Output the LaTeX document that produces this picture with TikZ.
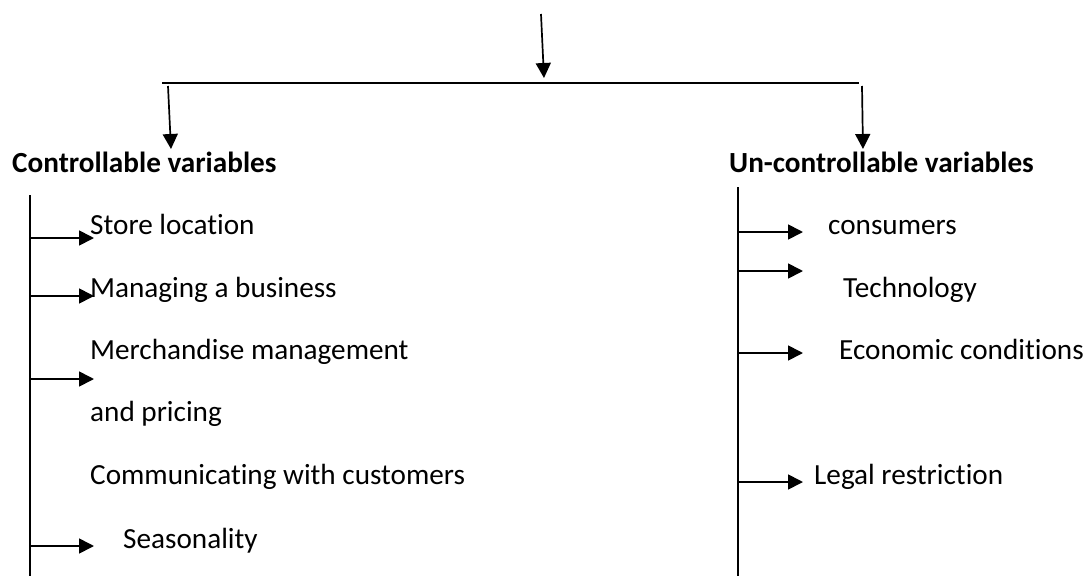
\documentclass[tikz,border=0pt]{standalone}
\usepackage{fontspec}
\setmainfont{Carlito}[Ligatures=NoCommon]
\usetikzlibrary{arrows.meta}
\begin{document}
\begin{tikzpicture}[x=1pt,y=-1pt,
  conn/.style={line width=1.7pt},
  arr/.style={conn,-{Triangle[length=15pt,width=15pt]}},
  lbl/.style={anchor=base west,inner sep=0pt,font=\fontsize{29.2}{34}\selectfont},
  head/.style={lbl,font=\fontsize{29.2}{34}\selectfont\bfseries}]
\useasboundingbox[fill=white] (0,0) rectangle (1088,576);
% top structure
\coordinate (topstart) at (541,14);
\coordinate (topend) at (544,78);
\coordinate (barL) at (162,83);
\coordinate (barR) at (859,83);
\coordinate (lstart) at (168,86);
\coordinate (lend) at (171,149);
\coordinate (rstart) at (862,86);
\coordinate (rend) at (863,149);
\draw[arr] (topstart) -- (topend);
\draw[conn] (barL) -- (barR);
\draw[arr] (lstart) -- (lend);
\draw[arr] (rstart) -- (rend);
% headings
\node[head] (ctrl) at (12,172) {Controllable variables};
\node[head] (unctrl) at (729,172) {Un-controllable variables};
% left branch
\coordinate (lt) at (30,195);
\coordinate (lb) at (30,576);
\draw[conn] (lt) -- (lb);
\foreach \n/\y in {a/238,b/296,c/379,d/546}{
  \coordinate (la\n) at (30,\y);
  \coordinate (lt\n) at (94,\y);
  \draw[arr] (la\n) -- (lt\n);
}
\node[lbl] (store) at (90,234) {Store location};
\node[lbl] (manage) at (90,297) {Managing a business};
\node[lbl] (merch) at (90,359) {Merchandise management};
\node[lbl] (pricing) at (90,421) {and pricing};
\node[lbl] (comm) at (90,484) {Communicating with customers};
\node[lbl] (season) at (123,548) {Seasonality};
% right branch
\coordinate (rt) at (738,187);
\coordinate (rb) at (738,576);
\draw[conn] (rt) -- (rb);
\foreach \n/\y in {a/232,b/271,c/353,d/482}{
  \coordinate (ra\n) at (738,\y);
  \coordinate (rt\n) at (803,\y);
  \draw[arr] (ra\n) -- (rt\n);
}
\node[lbl] (cons) at (828,234) {consumers};
\node[lbl] (tech) at (843,297) {Technology};
\node[lbl] (econ) at (839,359) {Economic conditions};
\node[lbl] (legal) at (814,484) {Legal restriction};
\end{tikzpicture}
\end{document}
